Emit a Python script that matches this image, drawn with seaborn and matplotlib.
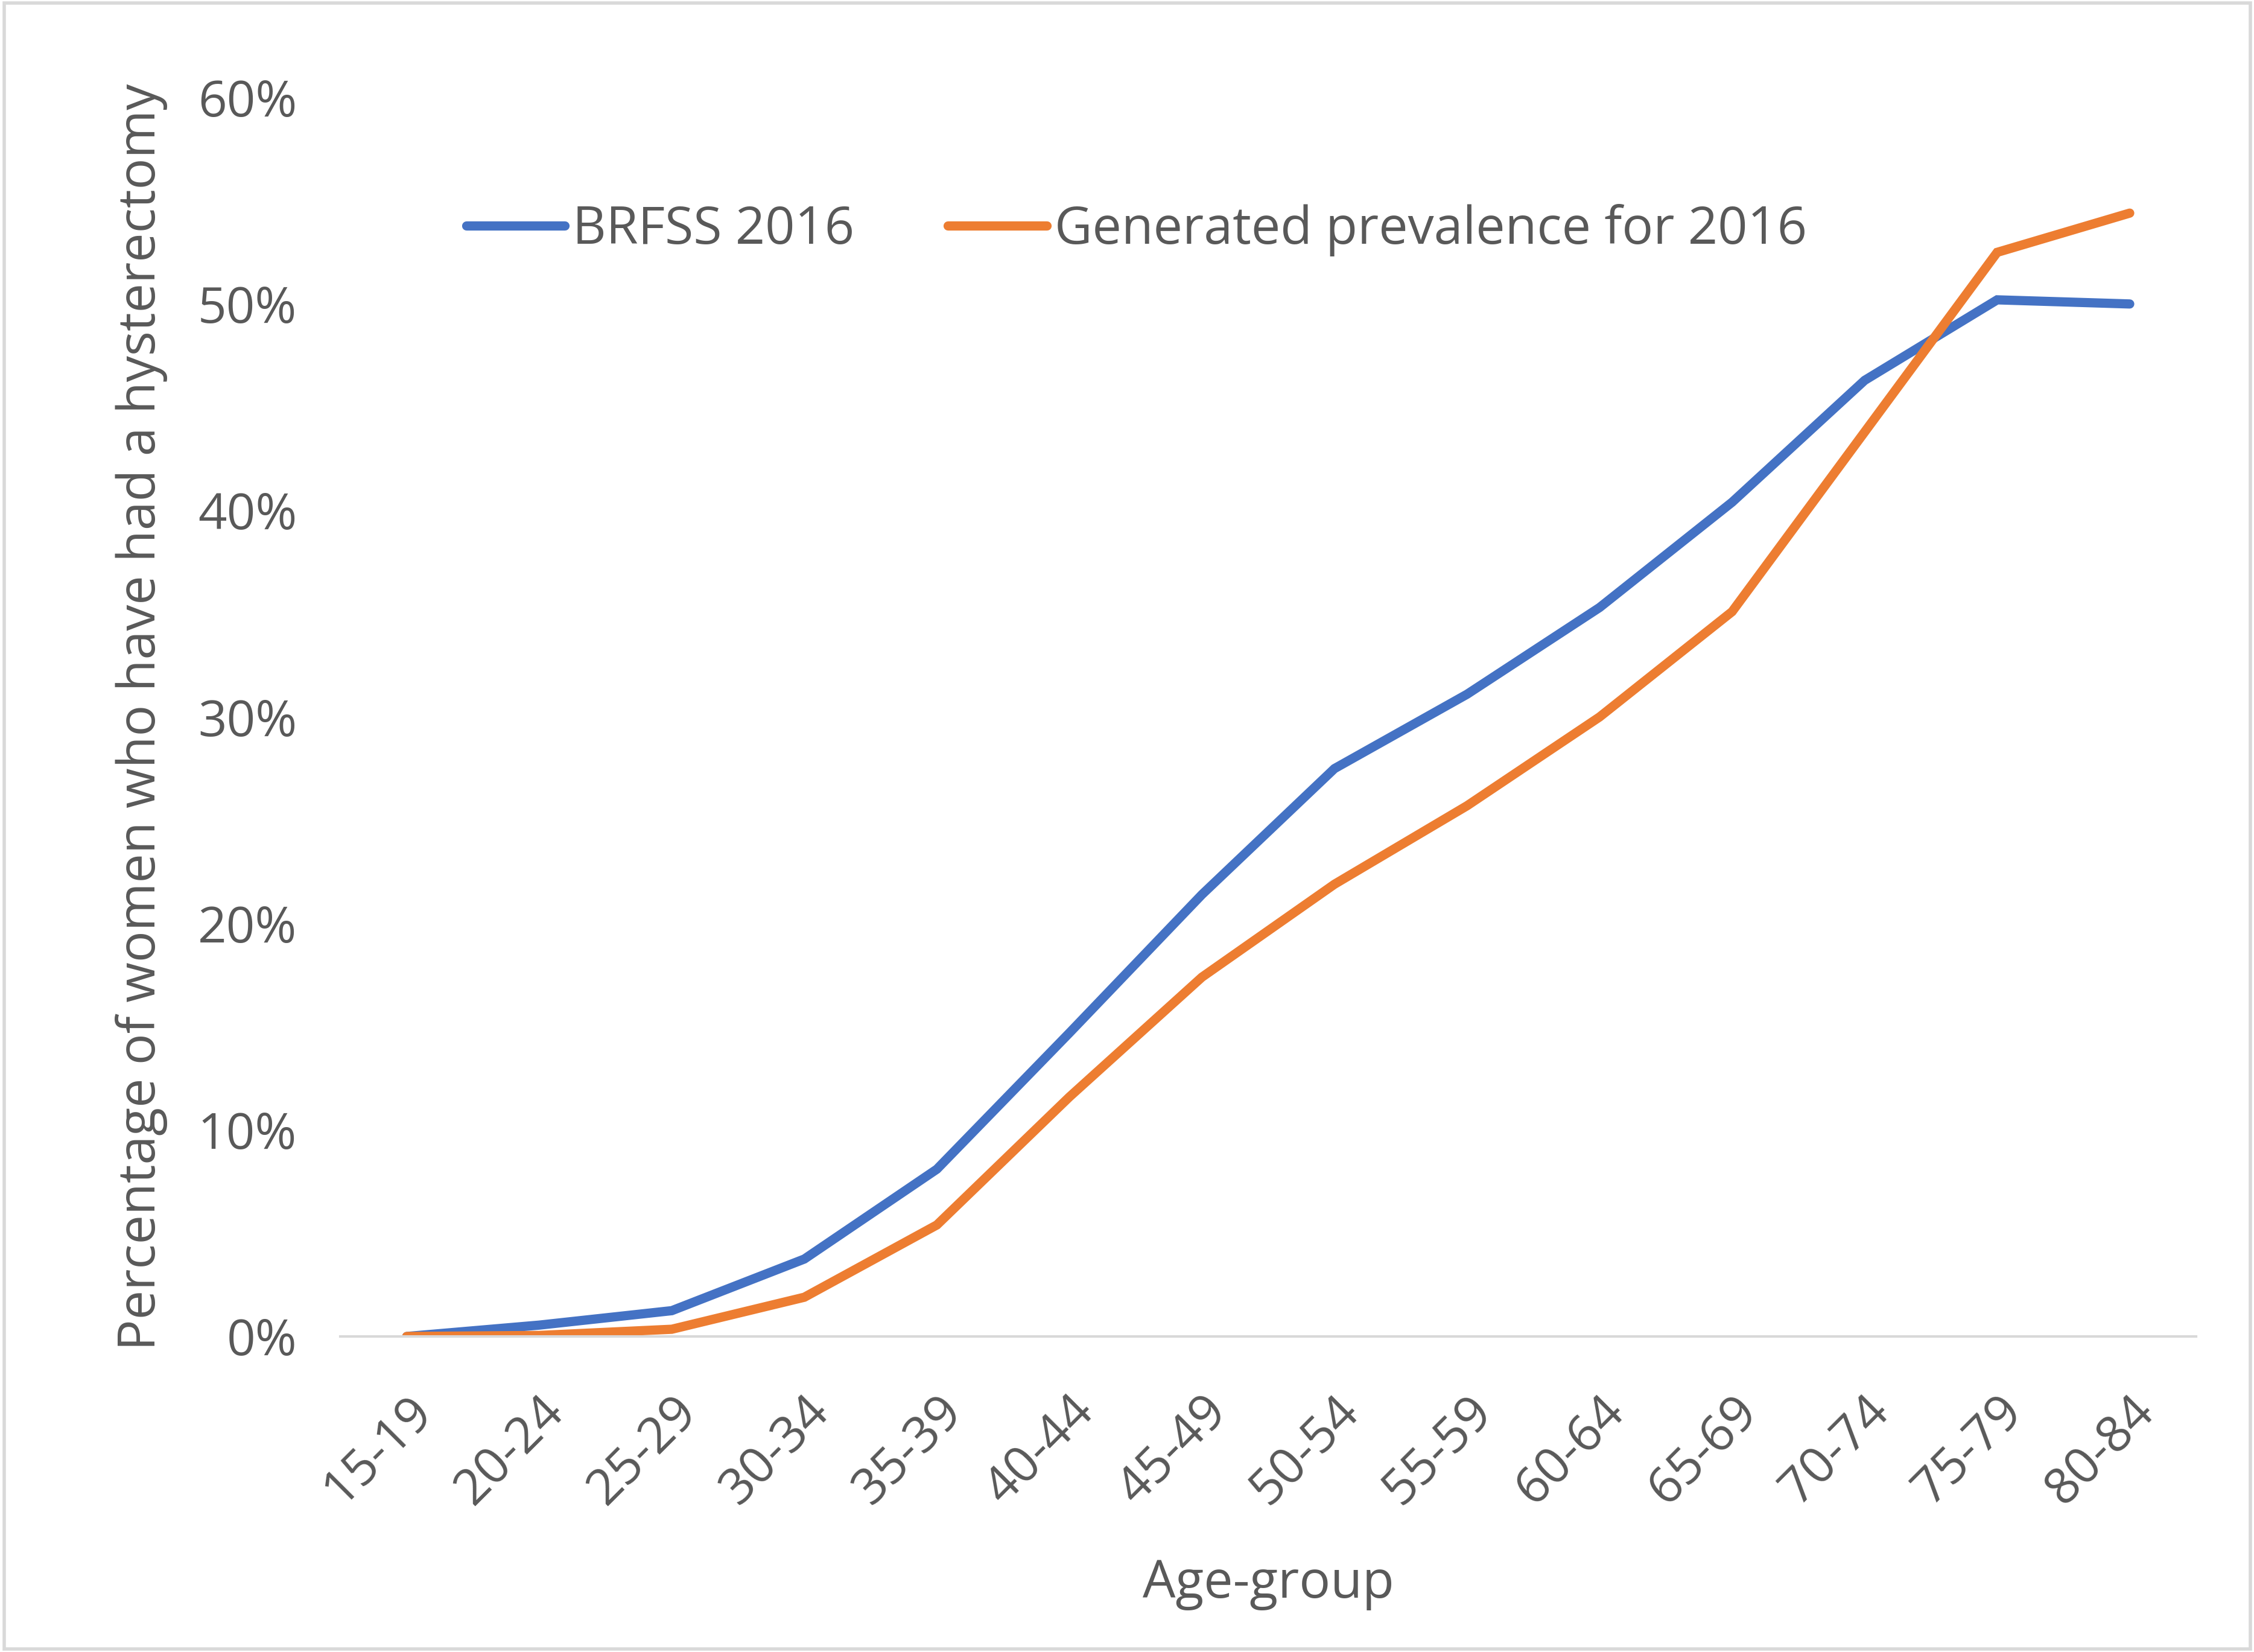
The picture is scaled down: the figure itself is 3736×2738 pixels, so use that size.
import pandas as pd
import matplotlib.pyplot as plt
import seaborn as sns
from matplotlib.ticker import PercentFormatter

# age groups and prevalence (%)
age_groups = ['15-19', '20-24', '25-29', '30-34', '35-39', '40-44', '45-49',
              '50-54', '55-59', '60-64', '65-69', '70-74', '75-79', '80-84']
brfss_2016 = [0.0, 0.55, 1.25, 3.75, 8.1, 14.7, 21.4, 27.5, 31.1, 35.3, 40.4, 46.3, 50.2, 50.0]
generated_2016 = [0.0, 0.05, 0.35, 1.9, 5.4, 11.6, 17.4, 21.9, 25.7, 30.0, 35.1, 43.8, 52.5, 54.4]

series_names = ['BRFSS 2016', 'Generated prevalence for 2016']
palette = {'BRFSS 2016': '#4472C4', 'Generated prevalence for 2016': '#ED7D31'}

df = pd.DataFrame({'Age-group': age_groups * 2,
                   'Percentage': brfss_2016 + generated_2016,
                   'Series': [series_names[0]] * len(age_groups) + [series_names[1]] * len(age_groups)})
df['x'] = df['Age-group'].map({a: i for i, a in enumerate(age_groups)})

sns.set_style('white')
plt.rcParams['font.family'] = ['Open Sans', 'DejaVu Sans']
text_color = '#595959'

fig = plt.figure(figsize=(18.685, 13.69), dpi=200)
ax = fig.add_axes([0.151, 0.191, 0.823, 0.750])

sns.lineplot(data=df, x='x', y='Percentage', hue='Series', palette=palette,
             linewidth=5.5, ax=ax, solid_capstyle='round', solid_joinstyle='miter')

ax.set_xlim(-0.5, len(age_groups) - 0.5)
ax.set_ylim(0, 60)
ax.set_yticks(range(0, 61, 10))
ax.yaxis.set_major_formatter(PercentFormatter(decimals=0))
ax.set_xticks(range(len(age_groups)))
ax.set_xticklabels(age_groups, rotation=45, ha='right', rotation_mode='anchor')
ax.tick_params(axis='both', labelsize=30, colors=text_color, length=0)
ax.tick_params(axis='x', pad=30)
ax.tick_params(axis='y', pad=26)

for s in ['top', 'right', 'left']:
    ax.spines[s].set_visible(False)
ax.spines['bottom'].set_color('#d9d9d9')
ax.spines['bottom'].set_linewidth(1.5)

ax.set_xlabel('Age-group', fontsize=31, color=text_color, labelpad=26)
ax.set_ylabel('Percentage of women who have had a hysterectomy', fontsize=31,
              color=text_color, labelpad=18)

leg = ax.legend(loc='center', bbox_to_anchor=(0.429, 0.893), ncol=2, frameon=False,
                fontsize=31, handlelength=1.9, columnspacing=1.8, handletextpad=0.15)
for t in leg.get_texts():
    t.set_color(text_color)

# light border around the whole chart
fig.patches.append(plt.Rectangle((0.002, 0.002), 0.996, 0.996, transform=fig.transFigure,
                                 fill=False, edgecolor='#d9d9d9', linewidth=2))

fig.savefig('out.png', dpi=200, facecolor='white')
